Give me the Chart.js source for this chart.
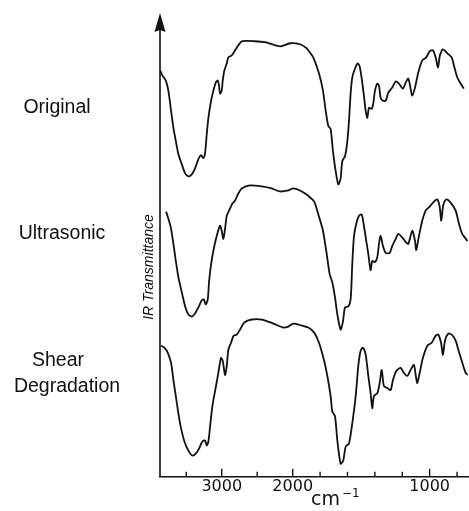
<!DOCTYPE html>
<html>
<head>
<meta charset="utf-8">
<script src="https://cdn.jsdelivr.net/npm/chart.js@4.4.1/dist/chart.umd.min.js"></script>
<style>
  html, body { margin: 0; padding: 0; background: #fff; }
</style>
</head>
<body>
<canvas id="irChart" width="469" height="511"></canvas>
<script>
// wavenumbers (cm-1) and transmittance (arbitrary units)
const originalWn = [3868, 3836, 3788, 3752, 3714, 3681, 3647, 3611, 3563, 3516, 3470, 3422, 3376, 3329, 3291, 3259, 3235, 3211, 3188, 3150,
  3118, 3084, 3056, 3038, 3024, 3000, 2986, 2963, 2929, 2907, 2859, 2812, 2766, 2710, 2531, 2390, 2249, 2165, 2038, 1947,
  1898, 1881, 1850, 1808, 1779, 1759, 1740, 1723, 1706, 1686, 1667, 1650, 1638, 1618, 1601, 1589, 1577, 1565, 1545, 1525,
  1511, 1496, 1480, 1467, 1455, 1443, 1423, 1412, 1399, 1382, 1370, 1358, 1341, 1321, 1302, 1273, 1248, 1224, 1195, 1175,
  1156, 1139, 1127, 1107, 1083, 1054, 1025, 1000, 976, 956, 939, 925, 903, 871, 839, 823, 798, 774, 750];
const originalT = [115, 110, 105, 95, 75, 58, 45, 32, 22, 13, 10, 12, 18, 27, 31, 28, 33, 52, 68, 85,
  95, 103, 105, 100, 92, 95, 105, 115, 122, 128, 130, 135, 140, 144, 144, 143, 140, 139, 142, 141,
  137, 134, 128, 112, 95, 75, 60, 57, 35, 15, 2, 8, 25, 30, 45, 65, 92, 108, 117, 122,
  119, 107, 90, 75, 68, 78, 77, 82, 95, 102, 100, 88, 85, 85, 93, 98, 104, 102, 97, 103,
  107, 97, 90, 98, 113, 125, 128, 134, 135, 128, 118, 130, 136, 132, 128, 120, 108, 102, 97];

const ultrasonicWn = [3784, 3752, 3714, 3681, 3647, 3611, 3563, 3516, 3470, 3422, 3376, 3329, 3281, 3253, 3225, 3197, 3178, 3150, 3118, 3070,
  3024, 3000, 2977, 2953, 2929, 2897, 2850, 2812, 2766, 2718, 2601, 2436, 2296, 2179, 2062, 1996, 1947, 1898, 1881, 1843,
  1808, 1779, 1755, 1730, 1711, 1691, 1674, 1650, 1633, 1618, 1594, 1577, 1565, 1553, 1536, 1516, 1496, 1480, 1463, 1448,
  1431, 1419, 1399, 1382, 1370, 1358, 1341, 1321, 1292, 1273, 1248, 1229, 1204, 1175, 1156, 1127, 1107, 1098, 1078, 1054,
  1029, 1000, 969, 944, 927, 915, 901, 879, 847, 810, 786, 762, 725];
const ultrasonicT = [120, 113, 103, 88, 71, 55, 40, 26, 18, 16, 19, 25, 32, 33, 28, 33, 51, 68, 81, 96,
  106, 101, 93, 103, 116, 121, 128, 131, 138, 143, 146, 145, 143, 140, 141, 143, 141, 137, 135, 130,
  115, 101, 81, 58, 50, 35, 18, 3, 11, 25, 26, 33, 68, 95, 108, 116, 117, 106, 91, 78,
  62, 71, 70, 75, 88, 96, 86, 79, 79, 86, 93, 98, 95, 90, 88, 101, 91, 82, 96, 111,
  121, 125, 130, 132, 125, 111, 126, 132, 129, 121, 108, 98, 91];

const shearWn = [3854, 3808, 3760, 3714, 3681, 3647, 3611, 3573, 3526, 3470, 3414, 3366, 3319, 3273, 3235, 3211, 3188, 3164, 3132, 3094,
  3048, 3010, 2986, 2953, 2929, 2907, 2869, 2831, 2788, 2742, 2681, 2577, 2436, 2273, 2132, 2062, 1996, 1934, 1886, 1843,
  1808, 1772, 1747, 1723, 1711, 1691, 1674, 1650, 1631, 1613, 1589, 1565, 1540, 1521, 1504, 1487, 1467, 1448, 1431, 1419,
  1407, 1382, 1365, 1350, 1334, 1309, 1285, 1268, 1244, 1212, 1188, 1163, 1139, 1115, 1102, 1090, 1073, 1049, 1017, 985,
  956, 937, 917, 903, 888, 864, 839, 810, 791, 766, 737, 722];
const shearT = [122, 120, 115, 105, 88, 72, 55, 40, 27, 18, 13, 15, 20, 27, 28, 23, 27, 42, 62, 77,
  95, 110, 107, 93, 102, 118, 125, 132, 133, 138, 145, 148, 148, 144, 140, 141, 144, 142, 140, 135,
  125, 108, 92, 72, 57, 52, 28, 5, 8, 22, 25, 45, 72, 102, 117, 120, 113, 92, 75, 60,
  72, 75, 85, 98, 82, 80, 78, 88, 97, 100, 95, 92, 98, 103, 93, 85, 95, 110, 122, 125,
  132, 133, 125, 113, 127, 134, 133, 127, 118, 107, 95, 93];

const sampleNames = ["Original", "Ultrasonic", "Shear Degradation"];
const xTickValues = [3500, 3000, 2500, 2000, 1800, 1600, 1400, 1200, 1000, 800];
const xTickLabels = [3000, 2000, 1000];

(function () {
  // IR charts are drawn with the scale doubled below 2000 cm-1
  const WN_LEFT = 3870;
  const WN_RIGHT = 720;
  const WN_BREAK = 2000;
  const STRETCH = 1.93;

  function wnToPos(wn) {
    return wn >= WN_BREAK ? WN_LEFT - wn : (WN_LEFT - WN_BREAK) + STRETCH * (WN_BREAK - wn);
  }

  function posToWn(pos) {
    const head = WN_LEFT - WN_BREAK;
    return pos <= head ? WN_LEFT - pos : WN_BREAK - (pos - head) / STRETCH;
  }

  class WavenumberScale extends Chart.LinearScale {
    static id = "wavenumber";
    static defaults = {};

    getPixelForValue(value) {
      return this.getPixelForDecimal(wnToPos(value) / wnToPos(WN_RIGHT));
    }

    getValueForPixel(pixel) {
      return posToWn(this.getDecimalForPixel(pixel) * wnToPos(WN_RIGHT));
    }
  }
  Chart.register(WavenumberScale);

  const axisFramePlugin = {
    id: "axisFramePlugin",
    afterDraw(chart) {
      const { ctx, chartArea, scales } = chart;
      const xScale = scales.x;

      ctx.save();
      ctx.strokeStyle = "#111";
      ctx.fillStyle = "#111";
      ctx.lineWidth = 1.6;

      // vertical axis with arrow head
      ctx.beginPath();
      ctx.moveTo(chartArea.left, chartArea.bottom);
      ctx.lineTo(chartArea.left, chartArea.top + 12);
      ctx.stroke();
      ctx.beginPath();
      ctx.moveTo(chartArea.left, chartArea.top);
      ctx.lineTo(chartArea.left - 5.5, chartArea.top + 19);
      ctx.lineTo(chartArea.left, chartArea.top + 17);
      ctx.lineTo(chartArea.left + 5.5, chartArea.top + 19);
      ctx.closePath();
      ctx.fill();

      // tick marks point up into the plot
      ctx.lineWidth = 1.4;
      xScale.ticks.forEach((tick, index) => {
        const x = xScale.getPixelForTick(index);
        const len = xTickLabels.includes(tick.value) ? 8 : 5;
        ctx.beginPath();
        ctx.moveTo(x, chartArea.bottom);
        ctx.lineTo(x, chartArea.bottom - len);
        ctx.stroke();
      });

      // unit below the axis
      ctx.textBaseline = "alphabetic";
      ctx.textAlign = "left";
      ctx.font = "19px 'DejaVu Sans'";
      ctx.fillText("cm", 311, 505);
      ctx.font = "12px 'DejaVu Sans'";
      ctx.fillText("\u22121", 342, 497);
      ctx.restore();
    }
  };

  const sampleLabelPlugin = {
    id: "sampleLabelPlugin",
    afterDraw(chart) {
      const config = chart?.options?.plugins?.sampleLabelPlugin;
      if (!config) {
        return;
      }
      const { ctx } = chart;
      ctx.save();
      ctx.fillStyle = "#111";
      ctx.textBaseline = "alphabetic";
      ctx.textAlign = "center";
      ctx.font = config.font;
      config.places.forEach((place, index) => {
        const words = index === 2 ? ["Shear", "Degradation"] : [sampleNames[index]];
        words.forEach((word, line) => {
          ctx.fillText(word, place.x[line] ?? place.x[0], place.y + line * place.lineGap);
        });
      });

      ctx.font = config.yTitleFont;
      ctx.translate(config.yTitle.x, config.yTitle.y);
      ctx.rotate(-Math.PI / 2);
      ctx.fillText("IR Transmittance", 0, 0);
      ctx.restore();
    }
  };

  function series(wn, t, offset) {
    return wn.map((w, i) => ({ x: w, y: t[i] + offset }));
  }

  const lineStyle = {
    borderColor: "#111",
    borderWidth: 1.8,
    pointRadius: 0,
    tension: 0.25,
    fill: false
  };

  new Chart(document.getElementById("irChart"), {
    type: "line",
    data: {
      datasets: [
        { label: sampleNames[0], data: series(originalWn, originalT, 288), ...lineStyle },
        { label: sampleNames[1], data: series(ultrasonicWn, ultrasonicT, 143), ...lineStyle },
        { label: sampleNames[2], data: series(shearWn, shearT, 8), ...lineStyle }
      ]
    },
    options: {
      responsive: false,
      animation: false,
      layout: {
        padding: { left: 160, right: 1, top: 13, bottom: 15 }
      },
      plugins: {
        legend: { display: false },
        tooltip: { enabled: false },
        sampleLabelPlugin: {
          font: "19.5px 'Liberation Sans'",
          yTitleFont: "italic 14px 'Liberation Sans'",
          places: [
            { x: [57], y: 113, lineGap: 0 },
            { x: [62], y: 239, lineGap: 0 },
            { x: [58, 67], y: 366, lineGap: 26 }
          ],
          yTitle: { x: 153, y: 267 }
        }
      },
      scales: {
        x: {
          type: "wavenumber",
          min: WN_RIGHT,
          max: WN_LEFT,
          afterBuildTicks(scale) {
            scale.ticks = xTickValues.map((value) => ({ value }));
          },
          ticks: {
            autoSkip: false,
            maxRotation: 0,
            padding: 0,
            color: "#111",
            font: { family: "DejaVu Sans", size: 16 },
            callback(value) {
              return xTickLabels.includes(value) ? String(value) : "";
            }
          },
          grid: { display: false, drawTicks: false },
          border: { display: true, color: "#111", width: 1.6 }
        },
        y: {
          display: false,
          min: 0,
          max: 460
        }
      }
    },
    plugins: [axisFramePlugin, sampleLabelPlugin]
  });
})();
</script>
</body>
</html>
